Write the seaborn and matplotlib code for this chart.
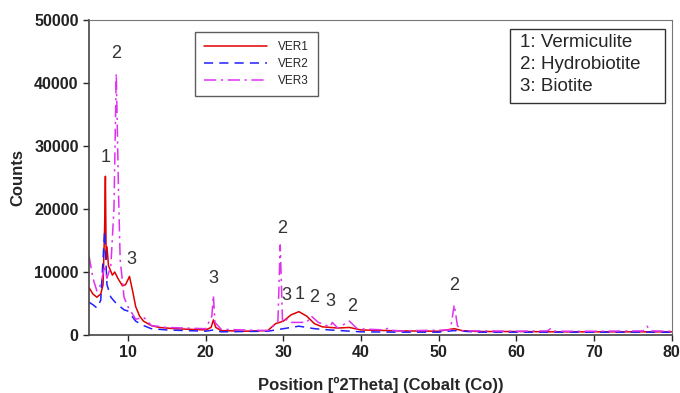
import matplotlib
matplotlib.use("Agg")
import matplotlib.pyplot as plt
from matplotlib.patches import Rectangle
import numpy as np
import pandas as pd
import seaborn as sns

# XRD patterns (position in 2Theta, counts)
ver1_x = [5, 5.5, 6, 6.5, 6.8, 7.0, 7.1, 7.2, 7.3, 7.5, 8.0, 8.3, 8.7, 9.3, 9.7, 10.2,
          10.6, 11, 11.5, 12, 13, 14, 16, 18, 20, 20.7, 21, 21.3, 22, 25, 28, 29, 30,
          31, 32, 33, 34, 35, 37, 38.5, 40, 45, 50, 51.5, 52, 53, 55, 60, 65, 70,
          75, 80]
ver1_y = [7500, 6500, 6000, 6500, 8000, 17000, 25200, 12000, 14000, 11000, 9500, 10000,
          9000, 7800, 8000, 9300, 7000, 4500, 3000, 2200, 1500, 1200, 1000, 900, 800,
          1200, 2400, 1200, 700, 600, 700, 1800, 2200, 3200, 3700, 3000, 1800, 1300,
          1100, 1200, 800, 650, 600, 900, 1000, 700, 550, 550, 500, 500, 500, 500]

ver2_x = [5, 5.5, 6, 6.5, 7.0, 7.3, 7.8, 8.5, 9, 9.5, 10, 10.5, 11, 12, 13, 15, 20,
          21, 22, 28, 30, 32, 34, 36, 40, 45, 50, 52, 55, 60, 70, 80]
ver2_y = [5200, 4800, 4300, 5500, 16500, 8000, 6000, 5000, 4500, 4000, 3800, 3000,
          2200, 1500, 1000, 800, 600, 800, 500, 600, 1000, 1400, 1000, 800, 500, 450,
          450, 700, 450, 450, 450, 450]

ver3_x = [5, 5.5, 6, 6.5, 7, 7.3, 7.8, 8.2, 8.5, 8.8, 9.0, 9.5, 10, 10.5, 11, 12,
          12.3, 13, 15, 20, 20.8, 21, 21.2, 22, 25, 28, 29.3, 29.6, 29.9, 30.5, 31,
          33, 33.6, 34.5, 36, 36.3, 37, 38.5, 39.5, 43, 43.5, 44, 45, 51.5, 52, 52.4,
          53, 55, 60, 64, 64.5, 65, 70, 76.3, 76.8, 77.3, 80]
ver3_y = [12500, 9000, 7000, 8000, 11000, 9000, 11000, 20000, 41500, 22000, 12000,
          6000, 4500, 3500, 2500, 2800, 2500, 1500, 1200, 1000, 3000, 6300, 2000, 900,
          800, 700, 2000, 14300, 2000, 2500, 2000, 2000, 3000, 2000, 1300, 2000, 1100,
          2200, 1000, 800, 1100, 750, 650, 800, 4800, 1500, 650, 650, 600, 650, 1100,
          600, 600, 650, 1400, 650, 600]

# peak labels
peak_x = [7.1, 8.5, 10.4, 21, 29.8, 30.4, 32.1, 33.9, 36.0, 38.8, 52.0]
peak_y = [26800, 43300, 10700, 7600, 15600, 4900, 5100, 4600, 3900, 3200, 6500]
peak_lbl = ["1", "2", "3", "3", "2", "3", "1", "2", "3", "2", "2"]

sns.set_style("ticks")
plt.rcParams['font.family'] = ['Liberation Sans', 'DejaVu Sans']

fig = plt.figure(figsize=(6.8, 3.93), dpi=100)
ax = fig.add_axes([0.131, 0.1476, 0.857, 0.8015])

sns.lineplot(x=ver1_x, y=ver1_y, ax=ax, color="#e00000", lw=1.1, label="VER1")
sns.lineplot(x=ver2_x, y=ver2_y, ax=ax, color="#2020ff", lw=1.1, label="VER2",
             linestyle=(0, (6, 4)))
sns.lineplot(x=ver3_x, y=ver3_y, ax=ax, color="#e030f0", lw=1.1, label="VER3",
             linestyle=(0, (8, 3, 1.5, 3)))

for px, py, t in zip(peak_x, peak_y, peak_lbl):
    ax.text(px, py, t, ha="center", va="bottom", fontsize=13, color="#333333")

ax.set_xlim(5, 80)
ax.set_ylim(0, 50000)
ax.set_xticks(range(10, 81, 10))
ax.set_yticks(range(0, 50001, 10000))
ax.tick_params(direction="out", length=4, width=1, labelsize=11.5)
for lab in ax.get_xticklabels() + ax.get_yticklabels():
    lab.set_fontweight("bold")
    lab.set_color("#222222")
for side in ["top", "right"]:
    ax.spines[side].set_visible(True)
    ax.spines[side].set_color("#777777")
    ax.spines[side].set_linewidth(0.8)
for side in ["left", "bottom"]:
    ax.spines[side].set_color("#444444")
    ax.spines[side].set_linewidth(1.2)

ax.set_xlabel("Position [º2Theta] (Cobalt (Co))", fontsize=12, fontweight="bold",
              labelpad=12)
ax.set_ylabel("Counts", fontsize=12, fontweight="bold", labelpad=6)

leg = ax.legend(loc="upper left", bbox_to_anchor=(0.182, 0.962), borderaxespad=0,
                fontsize=8.5, fancybox=False, edgecolor="#333333", handlelength=5.3,
                handletextpad=1.0, borderpad=0.75, labelspacing=0.45)
leg.get_frame().set_linewidth(1.0)

# mineral key box
ax.add_patch(Rectangle((0.722, 0.7365), 0.266, 0.235, transform=ax.transAxes,
                       fc="white", ec="#333333", lw=1.0, zorder=5))
ax.text(0.739, 0.957, "1: Vermiculite\n2: Hydrobiotite\n3: Biotite",
        transform=ax.transAxes, ha="left", va="top", fontsize=13.5,
        linespacing=1.4, zorder=6)

fig.savefig("out.png", dpi=100)
